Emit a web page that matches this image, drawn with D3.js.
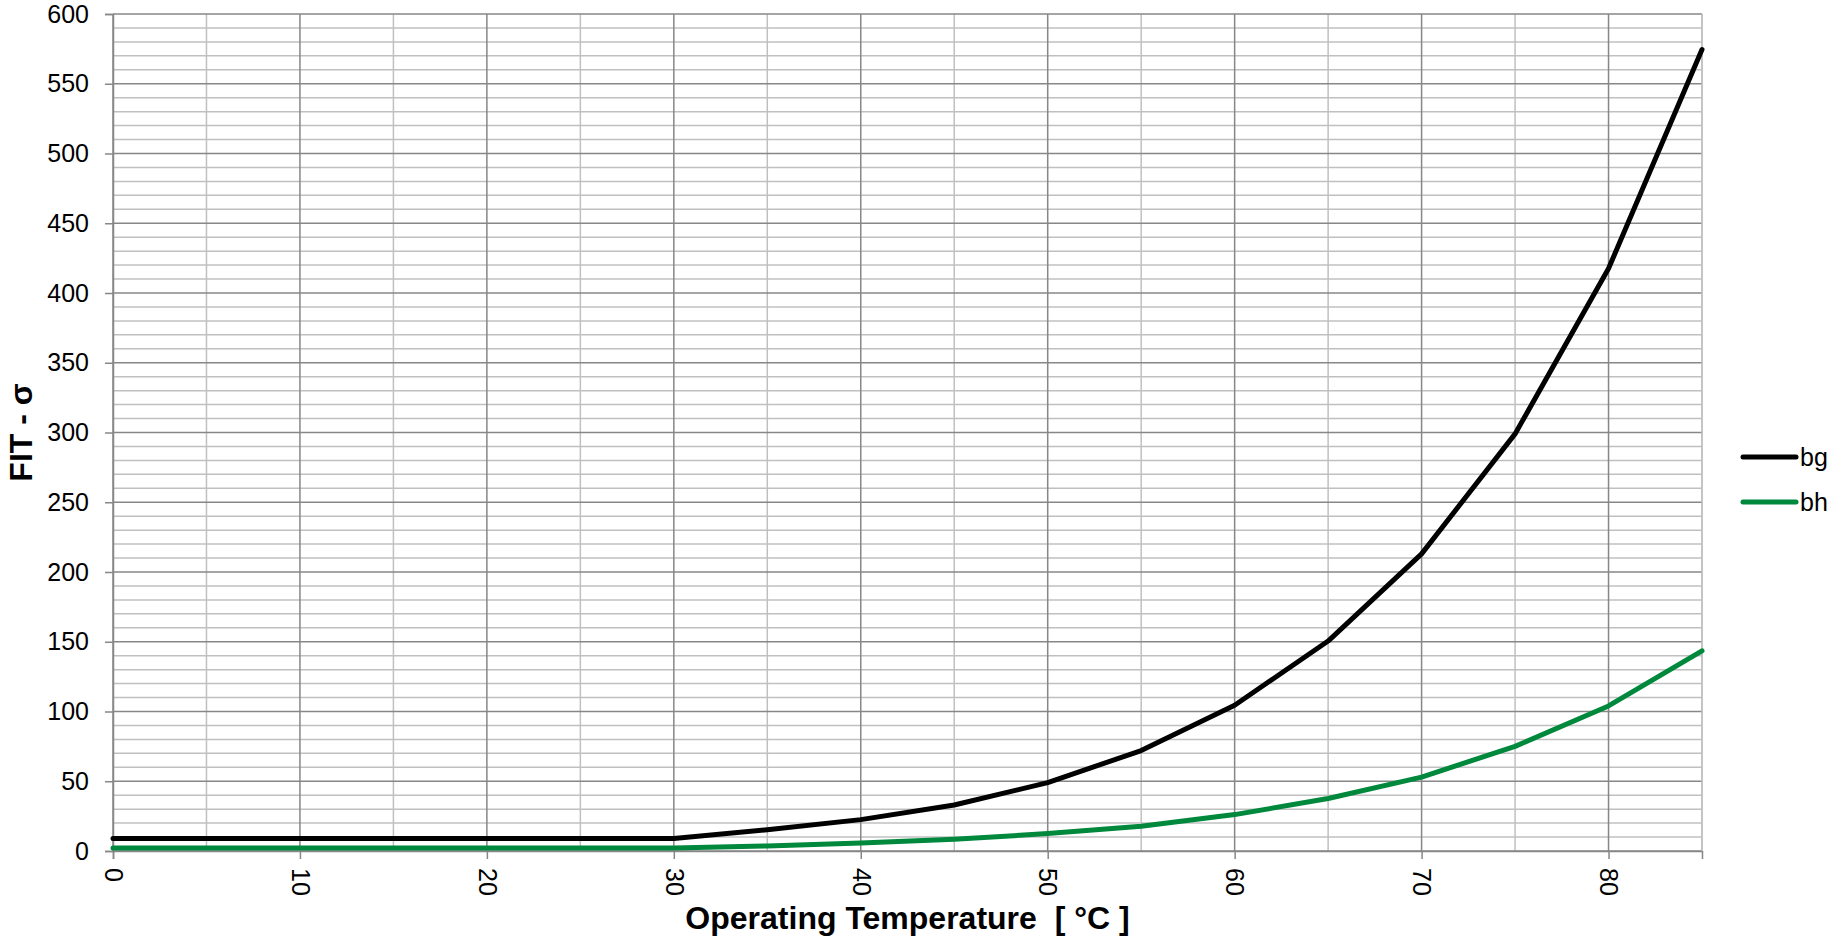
<!DOCTYPE html>
<html>
<head>
<meta charset="utf-8">
<script src="https://cdn.jsdelivr.net/npm/d3@7"></script>
<style>
  html, body { margin: 0; padding: 0; background: #fff; }
  svg { display: block; font-family: Arial, "Liberation Sans", sans-serif; }
  .pre { white-space: pre; }
</style>
</head>
<body>
<svg id="chart" width="1830" height="942"></svg>
<script>
// ---- data ----
const temperatures = [0, 5, 10, 15, 20, 25, 30, 35, 40, 45, 50, 55, 60, 65, 70, 75, 80, 85];
const bgValues = [9, 9, 9, 9, 9, 9, 9, 15.3, 22.5, 33, 49, 72, 104.5, 150.5, 213, 299, 417.5, 574.5];
const bhValues = [2.2, 2.2, 2.2, 2.2, 2.2, 2.2, 2.2, 3.6, 5.7, 8.4, 12.5, 17.8, 26.1, 37.6, 53, 75, 104, 143.5];
const seriesNames = ["bg", "bh"];
const seriesColors = ["#000000", "#00883c"];
const xTickValues = [0, 10, 20, 30, 40, 50, 60, 70, 80];
const yTickValues = [0, 50, 100, 150, 200, 250, 300, 350, 400, 450, 500, 550, 600];
const xTitle = "Operating Temperature  [ °C ]";
const yTitle = "FIT - σ";

// ---- layout ----
const L = 113, R = 1702, T = 14, B = 851;
const svg = d3.select("#chart");
const x = d3.scaleLinear().domain([0, 85]).range([L, R]);
const y = d3.scaleLinear().domain([0, 600]).range([B, T]);

const majorCol = "#878787", minorCol = "#c0c0c0";

// minor horizontal grid (every 10)
const yMinor = d3.range(0, 601, 10).filter(v => v % 50 !== 0);
svg.append("g").selectAll("line").data(yMinor).join("line")
  .attr("x1", L).attr("x2", R).attr("y1", d => y(d)).attr("y2", d => y(d))
  .attr("stroke", minorCol).attr("stroke-width", 1.5);
// minor vertical grid (every 5)
const xMinor = d3.range(5, 86, 10);
svg.append("g").selectAll("line").data(xMinor).join("line")
  .attr("y1", T).attr("y2", B).attr("x1", d => x(d)).attr("x2", d => x(d))
  .attr("stroke", minorCol).attr("stroke-width", 1.5);
// major horizontal grid
svg.append("g").selectAll("line").data(yTickValues).join("line")
  .attr("x1", L).attr("x2", R).attr("y1", d => y(d)).attr("y2", d => y(d))
  .attr("stroke", majorCol).attr("stroke-width", 1.5);
// major vertical grid
svg.append("g").selectAll("line").data(xTickValues).join("line")
  .attr("y1", T).attr("y2", B).attr("x1", d => x(d)).attr("x2", d => x(d))
  .attr("stroke", majorCol).attr("stroke-width", 1.5);

// y axis
const yAxis = svg.append("g").attr("transform", `translate(${L},0)`)
  .call(d3.axisLeft(y).tickValues(yTickValues).tickSize(8).tickPadding(16));
yAxis.select(".domain").attr("stroke", majorCol).attr("stroke-width", 1.5);
yAxis.selectAll(".tick line").attr("stroke", majorCol).attr("stroke-width", 1.5);
yAxis.selectAll(".tick text").attr("font-size", 25).attr("fill", "#000")
  .attr("font-family", "Arial, 'Liberation Sans', sans-serif");

// x axis
const xAxis = svg.append("g").attr("transform", `translate(0,${B})`)
  .call(d3.axisBottom(x).tickValues(xTickValues).tickSize(8));
xAxis.select(".domain").attr("stroke", majorCol).attr("stroke-width", 1.5);
xAxis.selectAll(".tick line").attr("stroke", majorCol).attr("stroke-width", 1.5);
xAxis.selectAll(".tick text")
  .attr("font-size", 25).attr("fill", "#000")
  .attr("font-family", "Arial, 'Liberation Sans', sans-serif")
  .attr("transform", "rotate(90)")
  .attr("x", 17).attr("y", 0).attr("dy", "0.35em")
  .attr("text-anchor", "start");

// right border
svg.append("line").attr("x1", R).attr("x2", R).attr("y1", T).attr("y2", B)
  .attr("stroke", minorCol).attr("stroke-width", 1.5);

// lines
const allSeries = [bgValues, bhValues];
const lineGen = d3.line().x((d, i) => x(temperatures[i])).y(d => y(d));
svg.append("g").selectAll("path").data(allSeries).join("path")
  .attr("d", d => lineGen(d))
  .attr("fill", "none")
  .attr("stroke", (d, i) => seriesColors[i])
  .attr("stroke-width", 5)
  .attr("stroke-linejoin", "round")
  .attr("stroke-linecap", "round");

// legend
const lg = svg.append("g");
seriesNames.forEach((name, i) => {
  const ly = 457 + i * 45;
  lg.append("line").attr("x1", 1743).attr("x2", 1796).attr("y1", ly).attr("y2", ly)
    .attr("stroke", seriesColors[i]).attr("stroke-width", 5).attr("stroke-linecap", "round");
  lg.append("text").attr("x", 1800).attr("y", ly).attr("dy", "0.35em")
    .attr("font-size", 25).attr("fill", "#000").text(name);
});

// titles
svg.append("text").attr("class", "pre").attr("xml:space", "preserve")
  .attr("x", (L + R) / 2).attr("y", 929)
  .attr("text-anchor", "middle").attr("font-size", 32).attr("font-weight", "bold")
  .attr("fill", "#000").text(xTitle);
svg.append("text").attr("class", "pre").attr("transform", `translate(32,${(T + B) / 2}) rotate(-90)`)
  .attr("text-anchor", "middle").attr("font-size", 32).attr("font-weight", "bold")
  .attr("fill", "#000").text(yTitle);
</script>
</body>
</html>
